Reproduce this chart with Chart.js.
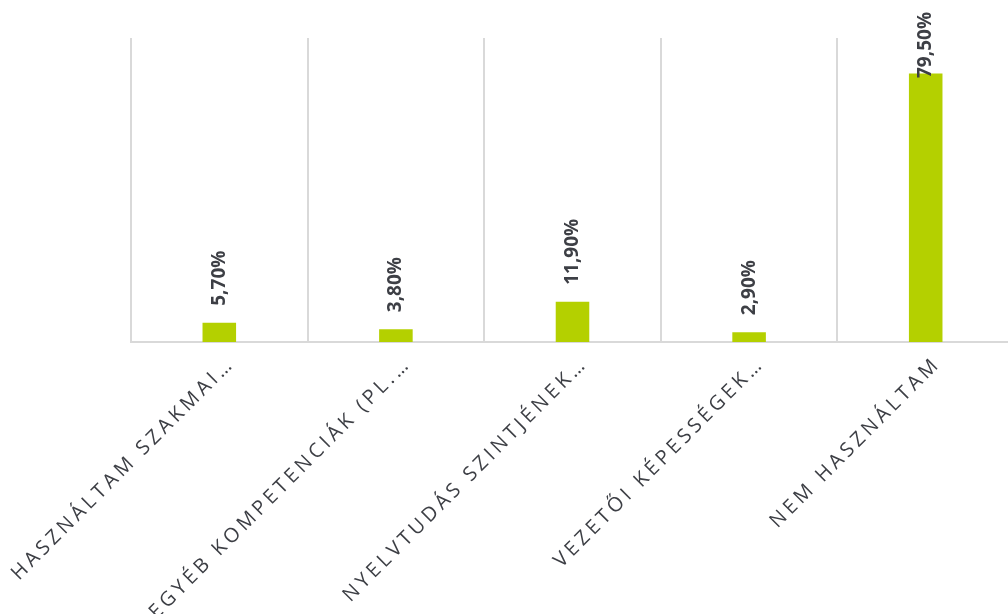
<!DOCTYPE html>
<html>
<head>
<meta charset="utf-8">
<script src="https://cdn.jsdelivr.net/npm/chart.js@4"></script>
<style>
  html, body { margin: 0; padding: 0; background: #fff; overflow: hidden; }
  #wrap { width: 1014px; height: 614px; }
</style>
</head>
<body>
<div id="wrap"><canvas id="chart"></canvas></div>
<script>
var categories = [
  'HASZNÁLTAM SZAKMAI…',
  'EGYÉB KOMPETENCIÁK (PL.…',
  'NYELVTUDÁS SZINTJÉNEK…',
  'VEZETŐI KÉPESSÉGEK…',
  'NEM HASZNÁLTAM'
];
var values = [5.7, 3.8, 11.9, 2.9, 79.5];

var labelFont = 'bold 19px "Open Sans", sans-serif';

// letter spacing only for the axis labels
var spacing = {
  id: 'spacing',
  beforeDraw: function (chart) { chart.ctx.letterSpacing = '3.8px'; },
  beforeDatasetsDraw: function (chart) { chart.ctx.letterSpacing = '0px'; }
};

// vertical value labels above bars
var valueLabels = {
  id: 'valueLabels',
  afterDraw: function (chart) {
    var ctx = chart.ctx;
    var meta = chart.getDatasetMeta(0);
    ctx.save();
    ctx.letterSpacing = '0px';
    ctx.font = labelFont;
    ctx.fillStyle = '#3d3f45';
    meta.data.forEach(function (bar, i) {
      var txt = values[i].toFixed(2).replace('.', ',') + '%';
      var w = ctx.measureText(txt).width;
      var bottom = bar.y - 17;
      if (bottom - w < 12) bottom = 12 + w;
      ctx.save();
      ctx.translate(bar.x, bottom);
      ctx.rotate(-Math.PI / 2);
      ctx.textAlign = 'left';
      ctx.textBaseline = 'middle';
      ctx.fillText(txt, 0, 0);
      ctx.restore();
    });
    ctx.restore();
  }
};

new Chart(document.getElementById('chart'), {
  type: 'bar',
  data: {
    labels: categories,
    datasets: [{
      data: values,
      backgroundColor: '#b4d000',
      barPercentage: 0.19,
      categoryPercentage: 1
    }]
  },
  options: {
    responsive: true,
    maintainAspectRatio: false,
    animation: false,
    layout: { padding: { top: 38, left: 131, right: 0, bottom: 0 } },
    plugins: { legend: { display: false }, tooltip: { enabled: false } },
    scales: {
      x: {
        grid: { color: '#d9d9d9', lineWidth: 2, drawTicks: false, offset: true },
        border: { color: '#d9d9d9', width: 2 },
        ticks: {
          autoSkip: false,
          maxRotation: 45,
          minRotation: 45,
          padding: 10,
          labelOffset: 12,
          color: '#3d3f45',
          font: { family: '"Open Sans", sans-serif', size: 20 }
        },
        afterFit: function (scale) { scale.height = 272; }
      },
      y: {
        display: false,
        min: 0,
        max: 90
      }
    }
  },
  plugins: [spacing, valueLabels]
});
</script>
</body>
</html>
